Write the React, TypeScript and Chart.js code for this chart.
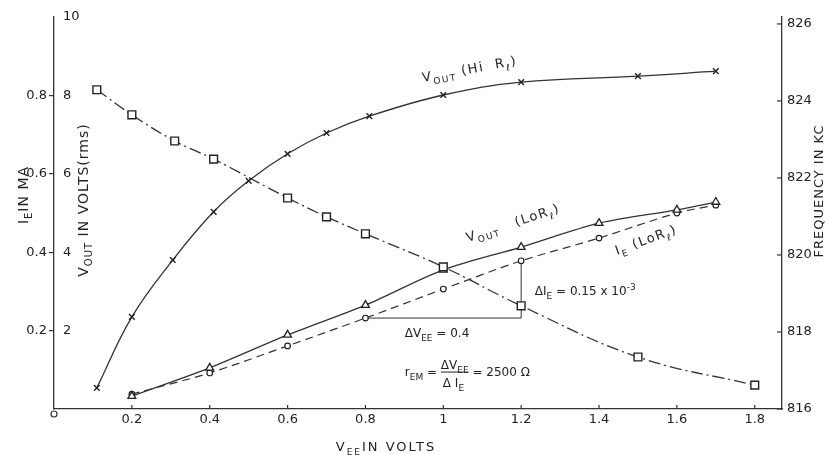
import React, { useEffect, useRef } from 'react';
import { Chart, registerables } from 'chart.js';

Chart.register(...registerables);

// ---------- data ----------
// V_OUT (Hi Rl), volts, crosses
const hiVee = [0.11, 0.2, 0.305, 0.41, 0.5, 0.6, 0.7, 0.81, 1.0, 1.2, 1.5, 1.7];
const hiVout = [0.54, 2.35, 3.8, 5.03, 5.82, 6.51, 7.04, 7.47, 8.01, 8.34, 8.49, 8.62];

// Frequency in KC, squares
const freqVee = [0.11, 0.2, 0.31, 0.41, 0.6, 0.7, 0.8, 1.0, 1.2, 1.5, 1.8];
const freqKc = [824.29, 823.64, 822.96, 822.49, 821.48, 820.99, 820.55, 819.69, 818.68, 817.35, 816.62];

// V_OUT (Lo Rl), volts, triangles
const loVee = [0.2, 0.4, 0.6, 0.8, 1.0, 1.2, 1.4, 1.6, 1.7];
const loVout = [0.33, 1.05, 1.89, 2.65, 3.55, 4.13, 4.74, 5.08, 5.28];

// I_E (Lo Rl), mA, small circles
const ieVee = [0.2, 0.4, 0.6, 0.8, 1.0, 1.2, 1.4, 1.6, 1.7];
const ieMa = [0.038, 0.092, 0.161, 0.232, 0.306, 0.378, 0.436, 0.5, 0.52];

// construction triangle (delta V_EE = 0.4, delta I_E = 0.15)
const deltaVee = [0.8, 1.2, 1.2];
const deltaIe = [0.232, 0.232, 0.378];

// ticks
const xTicks = [0.2, 0.4, 0.6, 0.8, 1.0, 1.2, 1.4, 1.6, 1.8];
const xTickLabels = ['0.2', '0.4', '0.6', '0.8', '1', '1.2', '1.4', '1.6', '1.8'];
const ieTicks = [0.2, 0.4, 0.6, 0.8];
const ieTickLabels = ['0.2', '0.4', '0.6', '0.8'];
const vTicks = [2, 4, 6, 8, 10];
const vTickLabels = ['2', '4', '6', '8', '10'];
const fTicks = [816, 818, 820, 822, 824, 826];
const fTickLabels = ['816', '818', '820', '822', '824', '826'];

// ---------- styling ----------
const FONT = "'DejaVu Sans', sans-serif";
const INK = '#222';
const LINE = '#333';

type Seg = { t: string; s?: 'sub' | 'sup' };

function drawRich(
  ctx: CanvasRenderingContext2D,
  segs: Seg[],
  x: number,
  y: number,
  angleDeg: number,
  size: number,
  align: 'left' | 'center' = 'left',
  spacing = 0
) {
  ctx.save();
  ctx.translate(x, y);
  ctx.rotate((angleDeg * Math.PI) / 180);
  ctx.fillStyle = INK;
  ctx.textBaseline = 'alphabetic';
  ctx.textAlign = 'left';
  (ctx as any).letterSpacing = spacing + 'px';
  const fontFor = (s: Seg) => (s.s ? Math.round(size * 0.72) : size) + 'px ' + FONT;
  const widths = segs.map((s) => {
    ctx.font = fontFor(s);
    return ctx.measureText(s.t).width;
  });
  const total = widths.reduce((a, b) => a + b, 0);
  let cx = align === 'center' ? -total / 2 : 0;
  segs.forEach((s, i) => {
    ctx.font = fontFor(s);
    const dy = s.s === 'sub' ? size * 0.32 : s.s === 'sup' ? -size * 0.45 : 0;
    ctx.fillText(s.t, cx, dy);
    cx += widths[i];
  });
  ctx.restore();
  return total;
}

const overlay = {
  id: 'overlay',
  afterDraw(chart: any) {
    const { ctx, chartArea, scales } = chart;
    const X = scales.x;
    const V = scales.yV;
    const F = scales.yF;
    ctx.save();
    ctx.strokeStyle = LINE;
    ctx.lineWidth = 1.2;
    // inward ticks on x axis
    xTicks.forEach((v) => {
      const px = X.getPixelForValue(v);
      ctx.beginPath();
      ctx.moveTo(px, chartArea.bottom);
      ctx.lineTo(px, chartArea.bottom - 4);
      ctx.stroke();
    });
    // inward ticks on right axis
    fTicks.forEach((v) => {
      const py = F.getPixelForValue(v);
      ctx.beginPath();
      ctx.moveTo(chartArea.right, py);
      ctx.lineTo(chartArea.right - 5, py);
      ctx.stroke();
    });
    // origin mark
    ctx.beginPath();
    ctx.arc(X.getPixelForValue(0), chartArea.bottom + 5, 3, 0, Math.PI * 2);
    ctx.stroke();
    ctx.restore();

    // axis titles
    drawRich(ctx, [{ t: 'I' }, { t: 'E', s: 'sub' }, { t: 'IN MA' }], 28, 195, -90, 14, 'center', 1);
    drawRich(ctx, [{ t: 'V' }, { t: 'OUT', s: 'sub' }, { t: ' IN VOLTS(rms)' }], 88, 200, -90, 14, 'center', 1);
    drawRich(ctx, [{ t: 'FREQUENCY IN KC' }], 823, 191, -90, 13, 'center', 1);
    drawRich(ctx, [{ t: 'V' }, { t: 'EE', s: 'sub' }, { t: 'IN VOLTS' }], 386, 451, 0, 13, 'center', 2);

    // curve labels, anchored in data space (x, volts)
    const P = (x: number, v: number) => [X.getPixelForValue(x), V.getPixelForValue(v)];
    let p = P(0.948, 8.34);
    drawRich(ctx, [{ t: 'V' }, { t: 'OUT', s: 'sub' }, { t: ' (Hi  R' }, { t: 'ℓ', s: 'sub' }, { t: ')' }], p[0], p[1], -10.5, 13, 'left', 1.5);
    p = P(1.063, 4.26);
    drawRich(ctx, [{ t: 'V' }, { t: 'OUT', s: 'sub' }, { t: '   (LoR' }, { t: 'ℓ', s: 'sub' }, { t: ')' }], p[0], p[1], -18, 13, 'left', 1.5);
    p = P(1.446, 3.93);
    drawRich(ctx, [{ t: 'I' }, { t: 'E', s: 'sub' }, { t: ' (LoR' }, { t: 'ℓ', s: 'sub' }, { t: ')' }], p[0], p[1], -20, 13, 'left', 1.5);
    p = P(1.235, 2.91);
    drawRich(ctx, [{ t: 'ΔI' }, { t: 'E', s: 'sub' }, { t: ' = 0.15 x 10' }, { t: '-3', s: 'sup' }], p[0], p[1], 0, 12, 'left', 0);
    p = P(0.901, 1.84);
    drawRich(ctx, [{ t: 'ΔV' }, { t: 'EE', s: 'sub' }, { t: ' = 0.4' }], p[0], p[1], 0, 12, 'left', 0);

    // r_EM = dV/dI = 2500 ohm
    p = P(0.901, 0.84);
    const [rx, ry] = p;
    const w = drawRich(ctx, [{ t: 'r' }, { t: 'EM', s: 'sub' }, { t: ' = ' }], rx, ry, 0, 12, 'left', 0);
    const fx = rx + w;
    const numW = drawRich(ctx, [{ t: 'ΔV' }, { t: 'EE', s: 'sub' }], fx, ry - 7, 0, 12, 'left', 0);
    const denW = drawRich(ctx, [{ t: 'Δ I' }, { t: 'E', s: 'sub' }], fx + 2, ry + 11, 0, 12, 'left', 0);
    const barW = Math.max(numW, denW + 2);
    ctx.save();
    ctx.strokeStyle = INK;
    ctx.lineWidth = 1;
    ctx.beginPath();
    ctx.moveTo(fx, ry - 4);
    ctx.lineTo(fx + barW, ry - 4);
    ctx.stroke();
    ctx.restore();
    drawRich(ctx, [{ t: ' = 2500 Ω' }], fx + barW, ry, 0, 12, 'left', 0);
  },
};

function pts(xs: number[], ys: number[]) {
  return xs.map((x, i) => ({ x, y: ys[i] }));
}

function labelFor(values: number[], labels: string[]) {
  return (v: any) => {
    const i = values.findIndex((t) => Math.abs(t - Number(v)) < 1e-6);
    return i >= 0 ? labels[i] : '';
  };
}

export default function App() {
  const ref = useRef<HTMLCanvasElement>(null);
  useEffect(() => {
    const canvas = ref.current;
    if (!canvas) return;
    const chart = new Chart(canvas, {
      type: 'line',
      data: {
        datasets: [
          {
            label: 'V_OUT (Hi Rl)',
            data: pts(hiVee, hiVout),
            yAxisID: 'yV',
            borderColor: LINE,
            borderWidth: 1.3,
            tension: 0.4,
            pointStyle: 'crossRot',
            pointRadius: 4,
            pointBorderWidth: 1.4,
            pointBorderColor: INK,
            pointBackgroundColor: INK,
          },
          {
            label: 'Frequency',
            data: pts(freqVee, freqKc),
            yAxisID: 'yF',
            borderColor: LINE,
            borderWidth: 1.3,
            borderDash: [12, 4, 2, 4],
            tension: 0.4,
            pointStyle: 'rect',
            pointRadius: 5.5,
            pointBorderWidth: 1.4,
            pointBorderColor: INK,
            pointBackgroundColor: '#fff',
          },
          {
            label: 'V_OUT (Lo Rl)',
            data: pts(loVee, loVout),
            yAxisID: 'yV',
            borderColor: LINE,
            borderWidth: 1.3,
            tension: 0.3,
            pointStyle: 'triangle',
            pointRadius: 4.5,
            pointBorderWidth: 1.3,
            pointBorderColor: INK,
            pointBackgroundColor: '#fff',
          },
          {
            label: 'I_E (Lo Rl)',
            data: pts(ieVee, ieMa),
            yAxisID: 'yI',
            borderColor: LINE,
            borderWidth: 1.2,
            borderDash: [8, 5],
            tension: 0.3,
            pointStyle: 'circle',
            pointRadius: 2.8,
            pointBorderWidth: 1.2,
            pointBorderColor: INK,
            pointBackgroundColor: '#fff',
          },
          {
            label: 'delta',
            data: pts(deltaVee, deltaIe),
            yAxisID: 'yI',
            borderColor: LINE,
            borderWidth: 1,
            tension: 0,
            pointRadius: 0,
          },
        ],
      },
      options: {
        animation: false,
        responsive: false,
        events: [],
        layout: { padding: { top: 17, left: 0, right: 0, bottom: 0 } },
        plugins: { legend: { display: false }, tooltip: { enabled: false } },
        scales: {
          x: {
            type: 'linear',
            position: 'bottom',
            min: 0,
            max: 1.87,
            afterBuildTicks: (s: any) => {
              s.ticks = xTicks.map((v) => ({ value: v }));
            },
            afterFit: (s: any) => {
              s.height = 46;
              s.paddingLeft = 0;
              s.paddingRight = 0;
            },
            ticks: {
              font: { family: FONT, size: 13 },
              color: INK,
              padding: 3,
              maxRotation: 0,
              autoSkip: false,
              callback: labelFor(xTicks, xTickLabels),
            },
            grid: { drawOnChartArea: false, drawTicks: false },
            border: { display: true, color: LINE, width: 1.3 },
          },
          yI: {
            type: 'linear',
            position: 'left',
            weight: 1,
            min: 0,
            max: 1,
            afterBuildTicks: (s: any) => {
              s.ticks = ieTicks.map((v) => ({ value: v }));
            },
            afterFit: (s: any) => {
              s.width = 54;
              s.paddingTop = 0;
              s.paddingBottom = 0;
            },
            ticks: {
              font: { family: FONT, size: 13 },
              color: INK,
              padding: 2,
              autoSkip: false,
              callback: labelFor(ieTicks, ieTickLabels),
            },
            grid: { drawOnChartArea: false, drawTicks: true, tickLength: 5, color: LINE, lineWidth: 1.2 },
            border: { display: true, color: LINE, width: 1.3 },
          },
          yV: {
            type: 'linear',
            position: 'left',
            weight: 0,
            min: 0,
            max: 10,
            afterBuildTicks: (s: any) => {
              s.ticks = vTicks.map((v) => ({ value: v }));
            },
            afterFit: (s: any) => {
              s.width = 0;
              s.paddingTop = 0;
              s.paddingBottom = 0;
            },
            ticks: {
              mirror: true,
              font: { family: FONT, size: 13 },
              color: INK,
              padding: 9,
              autoSkip: false,
              callback: labelFor(vTicks, vTickLabels),
            },
            grid: { drawOnChartArea: false, drawTicks: false },
            border: { display: false },
          },
          yF: {
            type: 'linear',
            position: 'right',
            min: 816,
            max: 826.18,
            afterBuildTicks: (s: any) => {
              s.ticks = fTicks.map((v) => ({ value: v }));
            },
            afterFit: (s: any) => {
              s.width = 47;
              s.paddingTop = 0;
              s.paddingBottom = 0;
            },
            ticks: {
              font: { family: FONT, size: 13 },
              color: INK,
              padding: 5,
              autoSkip: false,
              callback: labelFor(fTicks, fTickLabels),
            },
            grid: { drawOnChartArea: false, drawTicks: false },
            border: { display: true, color: LINE, width: 1.3 },
          },
        },
      },
      plugins: [overlay],
    } as any);
    return () => chart.destroy();
  }, []);

  return (
    <canvas
      ref={ref}
      width={829}
      height={455}
      style={{ position: 'absolute', left: 0, top: 0, width: 829, height: 455, background: '#fff' }}
    />
  );
}
